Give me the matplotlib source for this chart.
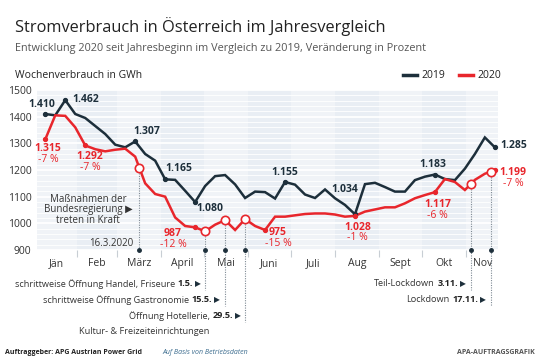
import matplotlib
matplotlib.use("Agg")
import matplotlib.pyplot as plt
import numpy as np

plt.rcParams['font.family'] = ['Open Sans', 'DejaVu Sans']

# weekly consumption in GWh (calendar weeks 2..47)
kw = np.arange(2, 48)
v2019 = [1410, 1405, 1462, 1410, 1395, 1365, 1335, 1295, 1285, 1307,
         1260, 1235, 1165, 1163, 1122, 1080, 1140, 1177, 1181, 1146,
         1095, 1119, 1117, 1093, 1155, 1145, 1108, 1095, 1127, 1094,
         1069, 1034, 1147, 1152, 1136, 1119, 1119, 1162, 1175, 1183,
         1166, 1162, 1205, 1260, 1322, 1285]
v2020 = [1315, 1405, 1403, 1360, 1292, 1278, 1270, 1276, 1280, 1250,
         1150, 1110, 1100, 1022, 990, 985, 970, 995, 1012, 975,
         1016, 990, 975, 1025, 1025, 1030, 1035, 1037, 1037, 1033,
         1025, 1028, 1044, 1052, 1060, 1060, 1075, 1094, 1106, 1117,
         1166, 1155, 1125, 1163, 1186, 1199]

months = ['Jän', 'Feb', 'März', 'April', 'Mai', 'Juni', 'Juli', 'Aug', 'Sept', 'Okt', 'Nov']
month_start = [1, 32, 60, 91, 121, 152, 182, 213, 244, 274, 305]

# events (day of year 2020)
ev_day = [76, 122, 136, 150, 308, 322]

# labels: (week index, text, pct)
lab19 = [(0, '1.410'), (2, '1.462'), (9, '1.307'), (12, '1.165'), (15, '1.080'),
         (24, '1.155'), (31, '1.034'), (39, '1.183'), (45, '1.285')]
lab20 = [(0, '1.315', '-7 %'), (4, '1.292', '-7 %'), (15, '987', '-12 %'),
         (22, '975', '-15 %'), (31, '1.028', '-1 %'), (39, '1.117', '-6 %'),
         (45, '1.199', '-7 %')]

DARK = '#1d2f3b'
RED = '#e8262c'
day = kw * 7 - 4
x0, x1 = 4.2, 327.2

fig = plt.figure(figsize=(5.4, 3.6), dpi=100)
ax = fig.add_axes([37/540, 1-250/360, 461/540, 160/360])
ax.set_facecolor('#e9eef4')
for i, s in enumerate(month_start):
    if i % 2 == 0:
        ax.axvspan(max(s, x0), month_start[i+1] if i+1 < len(month_start) else x1,
                   color='white', alpha=0.35, lw=0, zorder=0)
ax.set_xlim(x0, x1)
ax.set_ylim(900, 1500)
ax.set_yticks(range(900, 1501, 100))
ax.set_yticks(range(900, 1501, 20), minor=True)
ax.grid(axis='y', which='minor', color='white', lw=0.6, zorder=0.5)
ax.grid(axis='y', which='major', color='white', lw=1.3, zorder=0.5)
for sp in ax.spines.values():
    sp.set_visible(False)
ax.tick_params(axis='y', which='both', length=0, labelsize=7.5, labelcolor='#333333', pad=4)

ax.set_xticks(month_start[1:])
ax.set_xticklabels([])
ax.tick_params(axis='x', which='major', length=5, color='#c8ced4', width=0.8)
edges = [x0] + month_start[1:] + [x1]
centers = [(edges[i] + edges[i+1]) / 2 for i in range(len(months))]
ax.set_xticks(centers, minor=True)
ax.set_xticklabels(months, minor=True, fontsize=7.5, color='#333333')
ax.tick_params(axis='x', which='minor', length=0, pad=6)

ax.plot(day, v2019, color=DARK, lw=1.8, zorder=3, solid_joinstyle='miter')
ax.plot(day, v2020, color=RED, lw=1.8, zorder=3, solid_joinstyle='miter')

# event lines
ends = [900, 750, 690, 630, 750, 690]
ev_val = np.interp(ev_day, day, v2020)
for d, v, e in zip(ev_day, ev_val, ends):
    ax.plot([d, d], [v, e], ls=(0, (1, 1.2)), color='#7f8a94', lw=0.8, zorder=2, clip_on=False)
    ax.plot(d, 900, 'o', ms=2.5, color=DARK, zorder=4, clip_on=False)
    ax.plot(d, v, 'o', ms=6, mfc='white', mec=RED, mew=1.2, zorder=5)

# value labels
pos19 = [(7.7, 1447, 'center'), (28.7, 1466, 'left'), (81.3, 1346, 'center'),
         (93.9, 1204, 'left'), (125.4, 1057, 'center'), (178, 1189, 'center'),
         (220, 1125, 'center'), (281.7, 1219, 'center'), (328.7, 1290, 'left')]
for (i, t), (tx, ty, ha) in zip(lab19, pos19):
    ax.plot(day[i], v2019[i], 'o', ms=2.8, color=DARK, zorder=4)
    ax.text(tx, ty, t, ha=ha, va='center', fontsize=7.5, fontweight='bold', color=DARK, clip_on=False)
pos20 = [(11.9, 1279), (41.4, 1249), (99.5, 960), (173, 964), (229, 986), (285, 1069), (337.8, 1192)]
for (i, t, p), (tx, ty) in zip(lab20, pos20):
    ax.plot(day[i], v2020[i], 'o', ms=2.8, color=RED, zorder=4)
    ax.text(tx, ty, t, ha='center', va='center', fontsize=7.5, fontweight='bold', color=RED, clip_on=False)
    ax.text(tx, ty - 41, p, ha='center', va='center', fontsize=7.5, color=RED, clip_on=False)

# annotation inside plot
ax.text(40, 1090, 'Maßnahmen der', ha='center', va='center', fontsize=7, color='#333333')
ax.text(40, 1052, 'Bundesregierung ▶', ha='center', va='center', fontsize=7, color='#333333')
ax.text(40, 1012, 'treten in Kraft', ha='center', va='center', fontsize=7, color='#333333')
ax.text(72, 926, '16.3.2020', ha='right', va='center', fontsize=7, color='#333333')


def px(x, y):
    return x / 540, 1 - y / 360


def chain(x, y, normal, bold):
    a = fig.text(*px(x, y), '▶', ha='right', va='center', fontsize=5.5, color=DARK, family='DejaVu Sans')
    b = ax.annotate(bold, xy=(0, 0.5), xycoords=a, xytext=(-1.5, 0), textcoords='offset points',
                    ha='right', va='center', fontsize=6.6, fontweight='bold', color='#222222',
                    annotation_clip=False)
    c = ax.annotate(normal, xy=(0, 0.5), xycoords=b, xytext=(-2, 0), textcoords='offset points',
                    ha='right', va='center', fontsize=6.6, color='#333333', annotation_clip=False)
    return c


chain(201, 284, 'schrittweise Öffnung Handel, Friseure', '1.5.')
chain(220, 300, 'schrittweise Öffnung Gastronomie', '15.5.')
chain(241, 316, 'Öffnung Hotellerie,', '29.5.')
fig.text(*px(144, 331), 'Kultur- & Freizeiteinrichtungen', ha='center', va='center', fontsize=6.6, color='#333333')
chain(466, 284, 'Teil-Lockdown', '3.11.')
chain(486, 300, 'Lockdown', '17.11.')

# titles
fig.text(*px(15, 27), 'Stromverbrauch in Österreich im Jahresvergleich', fontsize=11.8,
         color='#222222', va='center', ha='left')
fig.text(*px(15, 49), 'Entwicklung 2020 seit Jahresbeginn im Vergleich zu 2019, Veränderung in Prozent',
         fontsize=7.8, color='#555555', va='center', ha='left')
fig.text(*px(15, 75), 'Wochenverbrauch in GWh', fontsize=7.5, color='#222222', va='center', ha='left')

# legend
fig.add_artist(plt.Line2D([403/540, 417/540], [1-75/360]*2, color=DARK, lw=2.5))
fig.text(*px(421, 75), '2019', fontsize=7.5, color='#222222', va='center', ha='left')
fig.add_artist(plt.Line2D([459/540, 473/540], [1-75/360]*2, color=RED, lw=2.5))
fig.text(*px(477, 75), '2020', fontsize=7.5, color='#222222', va='center', ha='left')

# footer
fig.text(*px(5, 352), 'Auftraggeber: APG Austrian Power Grid', fontsize=5.0, fontweight='bold',
         color='#222222', va='center', ha='left')
fig.text(*px(162, 352), 'Auf Basis von Betriebsdaten', fontsize=5.0, style='italic',
         color='#3d6d8f', va='center', ha='left')
fig.text(*px(535, 352), 'APA-AUFTRAGSGRAFIK', fontsize=5.0, fontweight='bold',
         color='#555555', va='center', ha='right')

fig.savefig('out.png', dpi=100)
